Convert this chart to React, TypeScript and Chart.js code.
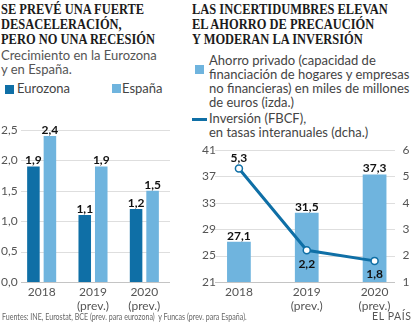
import React, { useEffect, useRef } from "react";
import { Chart, registerables } from "chart.js";

Chart.register(...registerables);

// ---------- data ----------
const categories: string[][] = [["2018"], ["2019", "(prev.)"], ["2020", "(prev.)"]];
const eurozona: number[] = [1.9, 1.1, 1.2];
const espana: number[] = [2.4, 1.9, 1.5];
const ahorro: number[] = [27.1, 31.5, 37.3];
const inversion: number[] = [5.3, 2.2, 1.8];
const growthTicks: number[] = [0, 0.5, 1, 1.5, 2, 2.5];
const ahorroTicks: number[] = [21, 25, 29, 33, 37, 41];
const inversionTicks: number[] = [1, 2, 3, 4, 5, 6];

// ---------- style ----------
const DARK = "#0f6fa6";
const LIGHT = "#6fb4de";
const GRID = "#dedede";
const BASE = "#c4c4c4";
const TICK = "#555";
const SANS = "Lato";

const fmt1 = (v: number) => v.toFixed(1).replace(".", ",");
const fmt0 = (v: number) => String(v);

const gridPlugin = {
  id: "customGrid",
  beforeDatasetsDraw(chart: any, _args: any, opts: any) {
    const scale = chart.scales[opts.scaleId];
    const ctx = chart.ctx;
    ctx.save();
    ctx.lineWidth = 1;
    scale.ticks.forEach((t: any, i: number) => {
      const y = Math.round(scale.getPixelForValue(t.value)) + 0.5;
      ctx.strokeStyle = i === 0 ? BASE : GRID;
      ctx.beginPath();
      ctx.moveTo(opts.x0, y);
      ctx.lineTo(opts.x1, y);
      ctx.stroke();
    });
    ctx.restore();
  },
};

const valueLabels = {
  id: "valueLabels",
  afterDatasetsDraw(chart: any) {
    const ctx = chart.ctx;
    ctx.save();
    ctx.font = `bold 12px ${SANS}`;
    ctx.fillStyle = "#111";
    ctx.textAlign = "center";
    ctx.textBaseline = "alphabetic";
    chart.data.datasets.forEach((ds: any, di: number) => {
      const meta = chart.getDatasetMeta(di);
      meta.data.forEach((el: any, i: number) => {
        const v = ds.data[i] as number;
        let y: number;
        if (meta.type === "line") y = i === 0 ? el.y - 6 : el.y + 17.5;
        else y = el.y - 2;
        ctx.fillText(fmt1(v), el.x, y);
      });
    });
    ctx.restore();
  },
};

const tickFont = { family: SANS, size: 12, lineHeight: 14 / 12 };

function LeftChart() {
  const ref = useRef<HTMLCanvasElement | null>(null);
  useEffect(() => {
    if (!ref.current) return;
    const chart = new Chart(ref.current, {
      type: "bar",
      data: {
        labels: categories,
        datasets: [
          { label: "Eurozona", data: eurozona, backgroundColor: DARK, categoryPercentage: 0.643, barPercentage: 0.76 },
          { label: "España", data: espana, backgroundColor: LIGHT, categoryPercentage: 0.643, barPercentage: 0.76 },
        ],
      },
      options: {
        responsive: false,
        animation: false,
        events: [],
        layout: { padding: { top: 15, right: 15, bottom: 0, left: 0 } },
        plugins: {
          legend: { display: false },
          tooltip: { enabled: false },
          customGrid: { scaleId: "y", x0: 21, x1: 170 },
        } as any,
        scales: {
          x: {
            grid: { display: false, drawTicks: false },
            border: { display: false },
            ticks: { color: TICK, font: tickFont, padding: 3, maxRotation: 0, autoSkip: false },
            afterFit: (s: any) => { s.height = 33; },
          },
          y: {
            min: 0,
            max: 2.5,
            grid: { display: false, drawTicks: false },
            border: { display: false },
            afterBuildTicks: (s: any) => { s.ticks = growthTicks.map((v) => ({ value: v })); },
            ticks: { color: TICK, font: tickFont, mirror: true, padding: -15, callback: (v: any) => fmt1(Number(v)) },
            afterFit: (s: any) => { s.width = 16; },
          },
        },
      },
      plugins: [gridPlugin, valueLabels],
    } as any);
    return () => chart.destroy();
  }, []);
  return (
    <canvas ref={ref} width={185} height={200}
      style={{ position: "absolute", left: 0, top: 115, width: 185, height: 200 }} />
  );
}

function RightChart() {
  const ref = useRef<HTMLCanvasElement | null>(null);
  useEffect(() => {
    if (!ref.current) return;
    const chart = new Chart(ref.current, {
      type: "bar",
      data: {
        labels: categories,
        datasets: [
          {
            type: "line",
            label: "Inversión (FBCF)",
            data: inversion,
            yAxisID: "y1",
            borderColor: DARK,
            borderWidth: 3,
            pointRadius: 3.5,
            pointBorderWidth: 1.5,
            pointBackgroundColor: "#fff",
            pointBorderColor: DARK,
            tension: 0,
            order: 0,
          },
          {
            type: "bar",
            label: "Ahorro privado",
            data: ahorro,
            yAxisID: "y",
            backgroundColor: LIGHT,
            categoryPercentage: 0.35,
            barPercentage: 1,
            order: 1,
          },
        ],
      },
      options: {
        responsive: false,
        animation: false,
        events: [],
        layout: { padding: { top: 35, right: 0, bottom: 0, left: 0 } },
        plugins: {
          legend: { display: false },
          tooltip: { enabled: false },
          customGrid: { scaleId: "y", x0: 35, x1: 215 },
        } as any,
        scales: {
          x: {
            grid: { display: false, drawTicks: false },
            border: { display: false },
            ticks: { color: TICK, font: tickFont, padding: 3, maxRotation: 0, autoSkip: false },
            afterFit: (s: any) => { s.height = 33; },
          },
          y: {
            position: "left",
            min: 21,
            max: 41,
            grid: { display: false, drawTicks: false },
            border: { display: false },
            afterBuildTicks: (s: any) => { s.ticks = ahorroTicks.map((v) => ({ value: v })); },
            ticks: { color: TICK, font: tickFont, mirror: true, padding: -3, callback: (v: any) => fmt0(Number(v)) },
            afterFit: (s: any) => { s.width = 25; },
          },
          y1: {
            position: "right",
            min: 1,
            max: 6,
            grid: { display: false, drawTicks: false },
            border: { display: false },
            afterBuildTicks: (s: any) => { s.ticks = inversionTicks.map((v) => ({ value: v })); },
            ticks: { color: TICK, font: tickFont, mirror: true, padding: 1, callback: (v: any) => fmt0(Number(v)) },
            afterFit: (s: any) => { s.width = 4; },
          },
        },
      },
      plugins: [gridPlugin, valueLabels],
    } as any);
    return () => chart.destroy();
  }, []);
  return (
    <canvas ref={ref} width={234} height={200}
      style={{ position: "absolute", left: 180, top: 115, width: 234, height: 200 }} />
  );
}

const titleStyle: React.CSSProperties = {
  position: "absolute",
  top: 2,
  fontFamily: '"Liberation Serif", serif',
  fontWeight: "bold",
  fontSize: 15,
  lineHeight: "15px",
  color: "#1b1b1b",
  transform: "scaleX(0.83)",
  transformOrigin: "0 0",
  whiteSpace: "pre",
};

const sansText: React.CSSProperties = {
  position: "absolute",
  fontFamily: SANS,
  fontSize: 13,
  lineHeight: "14px",
  color: "#444",
  whiteSpace: "pre",
};

export default function App() {
  return (
    <div style={{ position: "absolute", left: 0, top: 0, width: 414, height: 329, background: "#fff", overflow: "hidden" }}>
      <div style={{ ...titleStyle, left: 1 }}>{"SE PREVÉ UNA FUERTE\nDESACELERACIÓN,\nPERO NO UNA RECESIÓN"}</div>
      <div style={{ ...titleStyle, left: 192 }}>{"LAS INCERTIDUMBRES ELEVAN\nEL AHORRO DE PRECAUCIÓN\nY MODERAN LA INVERSIÓN"}</div>

      <div style={{ ...sansText, left: 1, top: 47.5, color: "#555" }}>{"Crecimiento en la Eurozona\ny en España."}</div>

      <div style={{ position: "absolute", left: 5, top: 85, width: 9, height: 9, background: DARK }} />
      <div style={{ ...sansText, left: 17, top: 81.2 }}>Eurozona</div>
      <div style={{ position: "absolute", left: 112, top: 84, width: 9, height: 9, background: LIGHT }} />
      <div style={{ ...sansText, left: 122, top: 81.2 }}>España</div>

      <div style={{ position: "absolute", left: 195, top: 65, width: 9, height: 9, background: LIGHT }} />
      <div style={{ ...sansText, left: 209, top: 52.5 }}>
        {"Ahorro privado (capacidad de\nfinanciación de hogares y empresas\nno financieras) en miles de millones\nde euros (izda.)"}
      </div>
      <div style={{ position: "absolute", left: 192, top: 117.5, width: 15, height: 3, background: DARK }} />
      <div style={{ ...sansText, left: 209, top: 110.5 }}>{"Inversión (FBCF),\nen tasas interanuales (dcha.)"}</div>

      <LeftChart />
      <RightChart />

      <div style={{ ...sansText, left: 2, top: 310.5, fontSize: 9.6, lineHeight: "11px", color: "#666", transform: "scaleX(0.74)", transformOrigin: "0 0" }}>
        {"Fuentes: INE, Eurostat, BCE (prev. para eurozona)  y Funcas (prev. para España)."}
      </div>
      <div style={{ ...sansText, left: 372, top: 310.5, fontSize: 10.5, lineHeight: "11px", letterSpacing: "0.6px", color: "#555" }}>EL PAÍS</div>
    </div>
  );
}
